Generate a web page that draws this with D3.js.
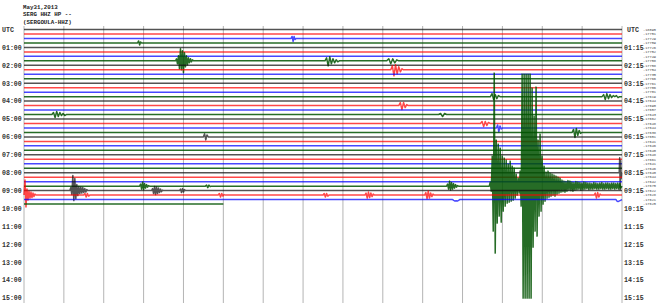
<!DOCTYPE html>
<html>
<head>
<meta charset="utf-8">
<script src="https://cdn.jsdelivr.net/npm/d3@7"></script>
<style>
  html, body { margin: 0; padding: 0; background: #fff; }
  #vis { width: 660px; height: 303px; }
</style>
</head>
<body>
<div id="vis"></div>
<script>
// header lines
var header = ["May31,2013", "SERG HHZ HP --", "(SERGOULA-HHZ)"];

// one row every 15 minutes, 4 rows per hour
var leftLabels = ["UTC", "01:00", "02:00", "03:00", "04:00", "05:00", "06:00", "07:00",
                  "08:00", "09:00", "10:00", "11:00", "12:00", "13:00", "14:00", "15:00"];
var rightLabels = ["UTC", "01:15", "02:15", "03:15", "04:15", "05:15", "06:15", "07:15",
                   "08:15", "09:15", "10:15", "11:15", "12:15", "13:15", "14:15", "15:15"];

// number of recorded traces and where the last one stops (minutes)
var nTraces = 40;
var lastTraceEnd = 5.0;

// little offset numbers at the right of each trace
var offsets = [-18095, -17751, -17729, -17759, -17726, -17752, -17749, -17758, -17758, -17754,
               -17735, -17766, -17761, -17706, -17701, -17619, -17644, -17690, -17657, -17643,
               -17662, -17648, -17644, -17638, -17651, -17641, -17646, -17640, -17648, -17661,
               -17641, -17646, -17640, -17644, -17642, -17675, -17622, -17628, -17621, -17625];

// the big quake on the 08:45 trace (counts, one sample every 0.025 min)
var quakeSamples = [0, 40, -50, 300, -450, 1130, -670, 460, -370, 420, -300, 380, -360, 300, -250,
  280, -200, 260, -170, 220, -160, 250, -150, 200, -140, 180, -120, 120, -90, 80, -70, 150, -200,
  1120, -1120, 1120, -1120, 1120, -1120, 1120, -1120, 1120, -1120, 980, -610, 700, -450, 990, -500,
  460, -300, 520, -250, 300, -180, 200, -150,
  140, -120, 150, -110, 130, -100, 120, -90, 110, -100, 100, -80, 90, -70, 80, -60, 60, -55, 50, -60,
  45, -50, 55, -40, 50, -45, 40, -50, 35, -40, 45, -35, 40, -30, 35, -40, 30, -35, 40, -30, 35, -25,
  30, -35, 30, -30, 25, -30, 35, -25, 30, -30, 25, -30, 30, -25, 35, -30, 25, -30, 30, -25, 30, -30,
  25, -30, 30, -25, 30, -30, 25, -25, 30, -30, 25, -20];

// smaller events: trace index, start minute, sample step (min), samples (counts)
var events = [
  {trace: 2,  t0: 6.70,  dt: 0.025, v: [0, 20, -30, 20, -10, 0]},
  {trace: 3,  t0: 2.85,  dt: 0.025, v: [0, 20, -20, 10, 0]},
  {trace: 7,  t0: 3.80,  dt: 0.025, v: [0, 20, -30, 50, -80, 120, -90, 100, -120, 80, -60, 50, -40, 30, -20, 20, -10, 10, 0, 0]},
  {trace: 7,  t0: 7.55,  dt: 0.04,  v: [0, 30, -50, 40, -30, 20, -20, 10, -10, 0]},
  {trace: 7,  t0: 9.10,  dt: 0.05,  v: [0, 20, -30, 20, -20, 10, 0]},
  {trace: 9,  t0: 9.20,  dt: 0.04,  v: [0, 40, -60, 50, -40, 30, -20, 10, 0]},
  {trace: 15, t0: 11.70, dt: 0.04,  v: [0, 30, -30, 20, -20, 10, 0]},
  {trace: 15, t0: 14.50, dt: 0.04,  v: [0, 20, -30, 30, -20, 20, -10, 10, 0, 10, -10, 0]},
  {trace: 17, t0: 9.40,  dt: 0.04,  v: [0, 30, -40, 30, -20, 10, 0]},
  {trace: 19, t0: 0.70,  dt: 0.04,  v: [0, 20, -30, 30, -20, 20, -10, 10, -10, 0]},
  {trace: 19, t0: 10.40, dt: 0.05,  v: [0, 10, -20, 10, 0]},
  {trace: 21, t0: 11.45, dt: 0.04,  v: [0, 20, -30, 20, -20, 10, 0]},
  {trace: 22, t0: 11.85, dt: 0.03,  v: [0, 30, -40, 20, -10, 0]},
  {trace: 23, t0: 13.75, dt: 0.035, v: [0, 30, -50, 40, -30, 20, -10, 0]},
  {trace: 24, t0: 4.50,  dt: 0.03,  v: [0, 30, -30, 20, 0]},
  {trace: 32, t0: 14.93, dt: 0.012, v: [0, 150, -170, 120, -60, 0]},
  {trace: 35, t0: 2.90,  dt: 0.025, v: [0, 20, -30, 40, -35, 25, -20, 15, -10, 5, 0]},
  {trace: 35, t0: 4.55,  dt: 0.03,  v: [0, 10, -15, 10, -5, 0]},
  {trace: 35, t0: 10.60, dt: 0.025, v: [0, 20, -30, 50, -40, 35, -30, 25, -20, 15, -10, 5, 0]},
  {trace: 35, t0: 11.67, dt: 0.025, v: quakeSamples},
  {trace: 36, t0: 1.15,  dt: 0.025, v: [0, 30, -40, 150, -100, 120, -80, 60, -50, 40, -30, 35, -25, 30, -20, 20, -15, 10, 0]},
  {trace: 36, t0: 3.20,  dt: 0.025, v: [0, 20, -30, 40, -40, 35, -30, 25, -20, 15, -10, 5, 0]},
  {trace: 36, t0: 3.90,  dt: 0.025, v: [0, 15, -20, 20, -15, 10, 0]},
  {trace: 37, t0: 0.00,  dt: 0.025, v: [0, 150, -120, 60, -50, 40, -30, 30, -25, 20, -15, 10, 0]},
  {trace: 37, t0: 1.50,  dt: 0.03,  v: [0, 15, -20, 15, -10, 0]},
  {trace: 37, t0: 4.87,  dt: 0.03,  v: [0, 15, -20, 15, -10, 5, 0]},
  {trace: 37, t0: 7.50,  dt: 0.03,  v: [0, 15, -20, 15, -10, 0]},
  {trace: 37, t0: 8.55,  dt: 0.03,  v: [0, 20, -30, 30, -25, 20, -15, 10, 0]},
  {trace: 37, t0: 10.05, dt: 0.03,  v: [0, 25, -35, 40, -30, 20, -15, 10, 0]},
  {trace: 37, t0: 14.30, dt: 0.03,  v: [0, 20, -30, 25, -20, 10, 0]},
  {trace: 38, t0: 10.75, dt: 0.03,  v: [0, -8, -15, -12, -15, -8, 0]},
  {trace: 38, t0: 14.85, dt: 0.025, v: [0, -15, -20, -15, -10, -5]}
];

var colors = ["#111", "#f00", "#00f", "#005200"];
var font = "'Liberation Mono', 'DejaVu Sans Mono', monospace";

var svg = d3.select("#vis").append("svg")
  .attr("width", 660).attr("height", 303)
  .style("display", "block");

var x = d3.scaleLinear().domain([0, 15]).range([24, 622]);
var row = d3.scaleLinear().domain([0, 60]).range([29.5, 298]);
var amp = d3.scaleLinear().domain([0, 1000]).range([0, 100]);

// minute grid
svg.append("g").selectAll("line")
  .data(d3.range(0, 16))
  .join("line")
  .attr("x1", d => x(d)).attr("x2", d => x(d))
  .attr("y1", 26).attr("y2", 303)
  .attr("stroke", "#b4b4b4").attr("stroke-width", 1);

// header
svg.append("g").selectAll("text")
  .data(header)
  .join("text")
  .attr("x", 23).attr("y", (d, i) => 9 + i * 7.3)
  .style("font-family", font).style("font-size", "5.8px").style("font-weight", "bold")
  .attr("fill", "#222")
  .text(d => d);

// hour labels
svg.append("g").selectAll("text")
  .data(leftLabels)
  .join("text")
  .attr("x", 2).attr("y", (d, i) => row(i * 4) + 2.3)
  .style("font-family", font).style("font-size", "6.6px").style("font-weight", "bold")
  .attr("fill", "#333")
  .text(d => d);

svg.append("g").selectAll("text")
  .data(rightLabels)
  .join("text")
  .attr("x", (d, i) => i === 0 ? 627 : 624).attr("y", (d, i) => row(i * 4) + 2.3)
  .style("font-family", font).style("font-size", "6.6px").style("font-weight", "bold")
  .attr("fill", "#333")
  .text(d => d);

svg.append("g").selectAll("text")
  .data(offsets)
  .join("text")
  .attr("x", 643).attr("y", (d, i) => row(i) + 1.3)
  .style("font-family", font).style("font-size", "3.6px")
  .attr("fill", "#444")
  .text(d => d);

// traces
var line = d3.line().x(d => x(d[0])).y(d => d[1]);

d3.range(nTraces).forEach(function (i) {
  var end = i === nTraces - 1 ? lastTraceEnd : 15;
  var base = row(i);
  var pts = [[0, base]];
  events.filter(e => e.trace === i)
    .sort((a, b) => a.t0 - b.t0)
    .forEach(function (e) {
      e.v.forEach(function (v, k) {
        var t = e.t0 + k * e.dt;
        if (t <= end) pts.push([t, base - amp(v)]);
      });
    });
  pts.push([end, base]);

  svg.append("path")
    .attr("d", line(pts))
    .attr("fill", "none")
    .attr("stroke", colors[i % 4])
    .attr("stroke-width", 1.5)
    .attr("stroke-opacity", i % 4 === 3 ? 0.85 : 0.72)
    .attr("stroke-linejoin", "round");
});
</script>
</body>
</html>
